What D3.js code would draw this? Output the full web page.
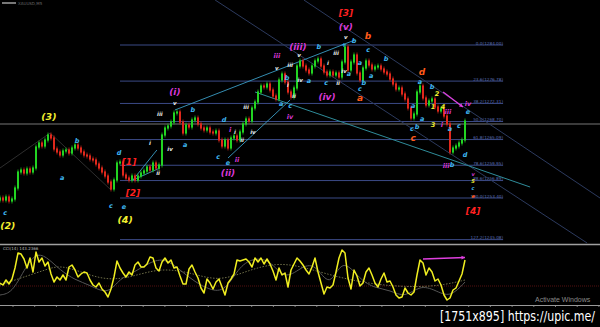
<!DOCTYPE html>
<html>
<head>
<meta charset="utf-8">
<style>
  body { margin: 0; background: #000; }
  svg { display: block; background: #000; }
  .lbl { font-family: "DejaVu Sans", sans-serif; font-style: italic; font-weight: bold; }
</style>
<script src="https://d3js.org/d3.v7.min.js"></script>
</head>
<body>
<svg id="chart"></svg>
<script>
var width = 600, height = 327;

// bar closes (open = previous close)
var closes = [
  1253.4,1253.0,1253.6,1252.8,1253.2,1255.4,1258.6,1259.0,1258.4,1259.2,
  1258.6,1259.4,1263.6,1264.4,1263.8,1265.0,1266.0,1265.4,1263.2,1262.6,
  1262.0,1262.8,1263.0,1262.4,1263.4,1264.0,1263.4,1262.6,1262.0,1261.8,
  1261.2,1261.0,1260.2,1259.4,1258.6,1257.8,1256.6,1255.2,1257.0,1260.4,
  1260.6,1258.0,1257.4,1257.0,1257.8,1257.0,1257.8,1258.4,1258.8,1259.6,
  1259.0,1260.4,1259.4,1260.0,1266.0,1267.4,1267.8,1268.6,1270.4,1270.6,
  1268.6,1266.4,1268.0,1267.6,1269.0,1269.4,1268.2,1267.4,1267.0,1267.4,
  1266.6,1266.4,1266.8,1265.0,1263.8,1265.0,1263.4,1265.4,1265.8,1265.0,
  1266.6,1268.2,1269.2,1268.8,1271.4,1272.6,1274.6,1275.8,1275.6,1276.2,
  1275.0,1273.8,1273.2,1277.0,1278.2,1276.6,1274.6,1273.6,1275.4,1279.8,
  1280.8,1279.8,1279.0,1278.4,1279.8,1280.8,1281.2,1279.8,1278.6,1278.0,
  1278.6,1278.0,1278.4,1277.6,1280.6,1283.6,1279.0,1280.6,1282.0,1278.4,
  1277.0,1279.4,1280.8,1280.0,1279.2,1279.6,1279.8,1279.2,1278.6,1278.2,
  1277.2,1276.2,1275.2,1275.4,1274.2,1273.2,1271.4,1269.4,1270.2,1274.6,
  1275.8,1273.4,1272.0,1272.8,1273.2,1271.6,1270.8,1271.2,1269.8,1268.2,
  1262.6,1263.4,1263.8,1264.4,1265.0,1268.8
];
var firstOpen = 1253.0;

// oscillator (lower pane), one value per bar
var oscValues = [
  20,18,23,19,24,35,50,49,44,35, 45,31,51,41,45,37,41,29,21,26,
  23,28,23,36,38,33,26,29,31,30, 23,18,16,20,14,11,6,14,26,42,
  35,30,26,31,28,38,41,36,36,39, 46,45,35,32,41,45,40,43,35,36,
  27,19,19,34,38,31,25,15,10,24, 20,14,21,24,16,8,20,24,29,43,
  42,43,44,41,36,45,41,45,39,44, 39,32,23,35,28,30,16,33,39,45,
  42,38,33,29,36,45,31,20,9,16, 15,18,31,45,53,50,25,14,33,27,
  17,20,31,35,28,20,16,24,30,21, 22,16,8,5,6,15,10,8,11,28,
  43,40,28,35,31,22,24,18,8,3, 5,13,15,22,29,43
];
var oscSignalBars = [0,4,8,12,16,20,25,30,36,40,45,50,55,60,65,70,75,80,85,90,95,100,105,110,114,120,125,130,135,140,145,150,155];
var oscSignal     = [8,10,33,51,45,33,23,18,8,25,31,41,45,33,21,13,11,38,45,43,23,35,41,13,47,23,15,13,5,18,13,5,21];
var oscSlowBars = [0,10,15,20,27,35,43,53,63,73,83,92,100,110,120,130,140,148,155];
var oscSlow     = [18,28,33,38,31,23,25,35,31,21,33,40,37,28,21,17,16,18,23];
var oscLevel = 17;

// fibonacci retracement
var fibLevels = [0, 23.6, 38.2, 50, 61.8, 78.6, 88.6, 100, 127.2];
var fibHigh = 1284.0, fibLow = 1253.4;
var hLevel = 1268.2;

// wave labels: [text, bar, price]
var bigYellow = [["(2)",2.6,1247.8],["(3)",16.3,1269.6],["(4)",41.7,1249.0]];
var bigRed = [["[1]",43,1260.6],["[2]",44.3,1254.4],["[3]",115.3,1290.4],["[4]",157.7,1250.7]];
var bigMagenta = [["(i)",58.3,1274.6],["(ii)",76,1258.4],["(iii)",99.3,1283.6],["(iv)",109,1273.6],["(v)",115.3,1287.6]];
var smallMagenta = [["iii",92.3,1281.8],["ii",79,1261.0],["i",76.7,1267.0],["iv",96.7,1269.6],
  ["iv",156,1272.2],["iii",149.3,1270.6],["i",147.3,1268.0],["iii",148.7,1259.8]];
var orangeLabels = [["b",122.7,1285.8],["a",120,1273.4],["d",140.7,1278.6],["c",137.7,1265.4]];
var cyanLabels = [["c",1.7,1250.4],["a",20.7,1257.4],["b",25.7,1264.8],["c",37,1251.8],["e",41.3,1251.6],["d",39.7,1262.4],
  ["a",61.7,1264.0],["b",64.3,1271.0],["c",72.7,1261.6],["d",74.7,1269.0],["e",76,1260.4],
  ["b",95.7,1277.4],["a",93.7,1272.2],["c",96.7,1271.8],["a",103,1276.8],["c",108.7,1276.4],["b",106.3,1283.6],
  ["+",114.7,1284.0],["b",118,1284.8],["c",122.7,1283.0],["a",116.3,1278.2],["a",120,1280.4],["b",121.3,1276.4],
  ["a",123.7,1277.8],["c",120,1275.2],["b",128.7,1281.2],["a",140,1276.6],["b",144,1275.6],["a",137.7,1271.8],
  ["e",156,1270.6],["a",140.7,1269.2],["b",139,1267.6],["c",137.3,1267.2],["a",150,1267.2],["c",153,1267.8],
  ["d",155,1262.0],["b",150.7,1260.0]];
var smallYellow = [["2",145.7,1274.2],["1",144.3,1271.6],["4",147.7,1271.6],["3",144.3,1268.0]];
// stacked labels under the last low: [text, bar, price, colour]
var stackLabels = [["v",157.7,1258.0,"#d838d8"],["5",157.7,1256.6,"#f2f030"],["c",157.7,1255.2,"#3fb6f0"],["e",157.7,1253.7,"#ff5a1a"]];
var smallWhite = [["i",50,1264.4],["ii",52.7,1258.4],["iii",53.3,1270.2],["v",58.3,1272.4],["iv",56.7,1263.2],
  ["i",78.3,1266.6],["ii",80.7,1265.0],["iv",84.3,1266.6],["iii",82,1271.6],
  ["v",92.3,1279.4],["iii",96.7,1280.0],["i",96,1276.0],["iv",100,1277.0],["ii",98,1273.8],
  ["v",99.7,1282.0],["iii",112,1282.4],["i",109.3,1280.4],["iv",114.7,1278.8],["ii",112.7,1276.4],["v",115.3,1285.6]];

// trend lines: [bar1, price1, bar2, price2]
var cyanLines = [[58.3,1271.0,118.3,1285.0],[76,1261.4,96.7,1273.0],[44.3,1257,52.3,1263],[44.3,1257,53.3,1259.4]];
var tealLines = [[85,1274.6,176.7,1255.6]];
var slateLines = [[101.3,1293,200,1253.4],[71.7,1293,195.7,1244.4]];
var greyLines = [[0,1259.4,16.7,1266.4],[16.7,1266.4,37,1255.0]];

var svg = d3.select("#chart").attr("width", width).attr("height", height);

var x = d3.scaleLinear().domain([0, 155]).range([0, 465]);
var y = d3.scaleLinear().domain([1293, 1244.2]).range([0, 244]);
var oy = d3.scaleLinear().domain([0, 55]).range([303, 248]);

// tiny header
svg.append("rect").attr("x", 2).attr("y", 2).attr("width", 14).attr("height", 2).attr("fill", "#777");
svg.append("text").attr("x", 18).attr("y", 5).attr("fill", "#666").attr("font-size", 4)
  .attr("font-family", "DejaVu Sans").text("XAUUSD,M5");

// full width horizontal line
svg.append("line").attr("x1", 0).attr("x2", width).attr("y1", y(hLevel)).attr("y2", y(hLevel))
  .attr("stroke", "#777").attr("stroke-width", 1);

// fib levels
var fib = svg.append("g");
fibLevels.forEach(function(lv) {
  var p = fibHigh - (fibHigh - fibLow) * lv / 100;
  fib.append("line").attr("x1", x(40)).attr("x2", x(167.7)).attr("y1", y(p)).attr("y2", y(p))
    .attr("stroke", "#3b4a86").attr("stroke-width", 1);
  fib.append("text").attr("x", x(167.7)).attr("y", y(p) - 0.5).attr("text-anchor", "end")
    .attr("fill", "#5a6cb0").attr("font-size", 4.2).attr("font-family", "DejaVu Sans")
    .text(lv.toFixed(1) + "(" + p.toFixed(2) + ")");
});

function drawLines(list, color, w, dash) {
  svg.append("g").selectAll("line").data(list).enter().append("line")
    .attr("x1", d => x(d[0])).attr("y1", d => y(d[1]))
    .attr("x2", d => x(d[2])).attr("y2", d => y(d[3]))
    .attr("stroke", color).attr("stroke-width", w).attr("stroke-dasharray", dash || null);
}
drawLines(greyLines, "#3a3a3a", 0.8);
drawLines(slateLines, "#2c3a5e", 1);
drawLines(tealLines, "#2f8c9a", 1);
drawLines(cyanLines, "#3a9cc4", 0.9);

// candles
var bars = closes.map(function(c, i) {
  return { i: i, o: i === 0 ? firstOpen : closes[i - 1], c: c };
});
var candles = svg.append("g").selectAll("g").data(bars).enter().append("g");
candles.append("line")
  .attr("x1", d => x(d.i)).attr("x2", d => x(d.i))
  .attr("y1", d => y(Math.max(d.o, d.c)) - 2.5)
  .attr("y2", d => y(Math.min(d.o, d.c)) + 2.5)
  .attr("stroke", d => d.c >= d.o ? "#22d422" : "#e0281c").attr("stroke-width", 0.7);
candles.append("rect")
  .attr("x", d => x(d.i) - 1)
  .attr("width", 2)
  .attr("y", d => y(Math.max(d.o, d.c)) - 0.6)
  .attr("height", d => Math.abs(y(d.o) - y(d.c)) + 1.2)
  .attr("fill", d => d.c >= d.o ? "#22d422" : "#e0281c");

// magenta arrow
function arrow(x1, y1, x2, y2) {
  var a = Math.atan2(y2 - y1, x2 - x1);
  svg.append("line").attr("x1", x1).attr("y1", y1).attr("x2", x2).attr("y2", y2)
    .attr("stroke", "#e040e0").attr("stroke-width", 1.3);
  svg.append("path").attr("d", "M" + x2 + "," + y2 +
      "L" + (x2 - 4 * Math.cos(a - 0.5)) + "," + (y2 - 4 * Math.sin(a - 0.5)) +
      "L" + (x2 - 4 * Math.cos(a + 0.5)) + "," + (y2 - 4 * Math.sin(a + 0.5)) + "Z")
    .attr("fill", "#e040e0");
}
arrow(x(147.7), y(1274.6), x(154.3), y(1271.6));

// labels
function drawLabels(list, color, size) {
  svg.append("g").selectAll("text").data(list).enter().append("text")
    .attr("class", "lbl")
    .attr("x", d => x(d[1])).attr("y", d => y(d[2]))
    .attr("text-anchor", "middle").attr("dominant-baseline", "middle")
    .attr("fill", d => d[3] || color).attr("font-size", size)
    .text(d => d[0]);
}
drawLabels(smallWhite, "#e8e8e8", 5.5);
drawLabels(cyanLabels, "#3fb6f0", 6.5);
drawLabels(smallYellow, "#f2f030", 6.5);
drawLabels(smallMagenta, "#d838d8", 6.5);
drawLabels(stackLabels, "#fff", 5);
drawLabels(orangeLabels, "#ff5a1a", 9);
drawLabels(bigMagenta, "#d838d8", 9);
drawLabels(bigRed, "#ff2020", 9);
drawLabels(bigYellow, "#f2f030", 9.5);

// pane separator
svg.append("line").attr("x1", 0).attr("x2", width).attr("y1", 244.5).attr("y2", 244.5)
  .attr("stroke", "#a0a0a0").attr("stroke-width", 1.5);

// oscillator pane
svg.append("text").attr("x", 3).attr("y", 250).attr("fill", "#bbb").attr("font-size", 4)
  .attr("font-family", "DejaVu Sans").text("CCI(14) 143.2366");
svg.append("line").attr("x1", 0).attr("x2", width).attr("y1", oy(oscLevel)).attr("y2", oy(oscLevel))
  .attr("stroke", "#6a1414").attr("stroke-width", 0.8).attr("stroke-dasharray", "1,1");

var slowLine = d3.line().x((d, i) => x(oscSlowBars[i])).y(d => oy(d)).curve(d3.curveBasis);
svg.append("path").datum(oscSlow).attr("d", slowLine).attr("fill", "none")
  .attr("stroke", "#8a8a5a").attr("stroke-width", 0.8).attr("stroke-dasharray", "1.5,1.5");

var sigLine = d3.line().x((d, i) => x(oscSignalBars[i])).y(d => oy(d)).curve(d3.curveBasis);
svg.append("path").datum(oscSignal).attr("d", sigLine).attr("fill", "none")
  .attr("stroke", "#555").attr("stroke-width", 1);

var oscLine = d3.line().x((d, i) => x(i)).y(d => oy(d));
svg.append("path").datum(oscValues).attr("d", oscLine).attr("fill", "none")
  .attr("stroke", "#f0ee20").attr("stroke-width", 1.5).attr("stroke-linejoin", "round");

// bottom axis line with ticks
svg.append("line").attr("x1", 0).attr("x2", width).attr("y1", 305.5).attr("y2", 305.5)
  .attr("stroke", "#999").attr("stroke-width", 1);
svg.append("g").selectAll("line").data(d3.range(13, 600, 21.7)).enter().append("line")
  .attr("x1", d => d).attr("x2", d => d).attr("y1", 305).attr("y2", 307)
  .attr("stroke", "#999").attr("stroke-width", 0.8);

arrow(423, 259, 465, 257.5);

// watermark text
svg.append("text").attr("x", 535).attr("y", 302).attr("fill", "#8a8a8a").attr("font-size", 7)
  .attr("font-family", "Liberation Sans, sans-serif").text("Activate Windows");
svg.append("text").attr("x", 440).attr("y", 321).attr("fill", "#fff").attr("font-size", 14)
  .attr("font-family", "DejaVu Sans Condensed, Liberation Sans Narrow, sans-serif")
  .attr("textLength", 155).attr("lengthAdjust", "spacingAndGlyphs")
  .text("[1751x895] https://upic.me/");
</script>
</body>
</html>
